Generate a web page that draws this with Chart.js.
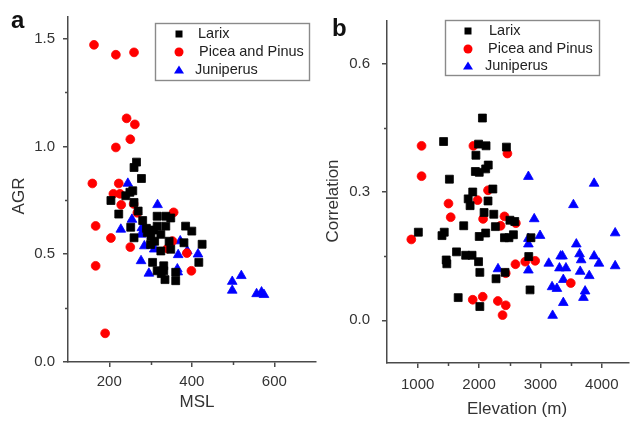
<!DOCTYPE html>
<html>
<head>
<meta charset="utf-8">
<script src="https://cdn.jsdelivr.net/npm/chart.js@4.4.1/dist/chart.umd.min.js"></script>
<style>
  html, body { margin: 0; padding: 0; background: #fff; }
  #wrap { position: relative; width: 635px; height: 421px; overflow: hidden; }
  #chartA { position: absolute; left: 0; top: 0; width: 322px; height: 421px; }
  #chartB { position: absolute; left: 322px; top: 0; width: 313px; height: 421px; }
</style>
</head>
<body>
<div id="wrap">
  <canvas id="chartA" width="322" height="421"></canvas>
  <canvas id="chartB" width="313" height="421"></canvas>
</div>
<script>
// panel a: AGR against MSL, [msl, agr]
const larixMsl = [
  [266,0.927],[260,0.902],[278,0.851],[257,0.794],[250,0.787],[240,0.771],[204,0.749],
  [223,0.686],[252,0.625],[260,0.576],[281,0.656],[270,0.700],[260,0.740],[290,0.620],
  [316,0.676],[337,0.676],[349,0.668],[316,0.630],[337,0.630],[325,0.592],[301,0.584],
  [292,0.600],[307,0.612],[385,0.630],[400,0.607],[425,0.546],[417,0.462],[381,0.553],
  [349,0.523],[325,0.515],[305,0.462],[332,0.446],[316,0.423],[332,0.423],[335,0.382],
  [361,0.377],[361,0.416],[310,0.560],[345,0.560],[326,0.410],[300,0.545]
];
const piceaMsl = [
  [163,1.471],[216,1.425],[260,1.436],[242,1.130],[262,1.102],[251,1.033],[216,0.995],
  [159,0.828],[223,0.828],[210,0.780],[226,0.780],[229,0.729],[259,0.733],[356,0.694],
  [268,0.692],[167,0.631],[204,0.575],[251,0.533],[353,0.561],[341,0.526],[388,0.505],
  [167,0.446],[399,0.423],[190,0.133]
];
const juniperusMsl = [
  [245,0.828],[317,0.729],[255,0.661],[228,0.615],[279,0.622],[277,0.592],[285,0.538],
  [303,0.549],[309,0.523],[372,0.561],[367,0.497],[389,0.515],[415,0.500],[277,0.469],
  [296,0.411],[365,0.431],[366,0.417],[498,0.373],[520,0.400],[498,0.332],[557,0.316],
  [569,0.324],[575,0.312]
];

// panel b: correlation against elevation, [elevation, r]
const larixElev = [
  [2055,0.473],[1422,0.418],[1992,0.412],[2114,0.408],[2446,0.405],[1949,0.386],[2150,0.363],
  [2108,0.354],[1940,0.348],[2003,0.346],[1517,0.330],[2225,0.307],[1897,0.300],[1823,0.284],
  [2146,0.279],[1854,0.268],[2082,0.252],[2240,0.248],[2503,0.234],[2582,0.231],[1750,0.221],
  [2266,0.219],[2108,0.204],[2003,0.196],[2414,0.193],[2487,0.193],[2560,0.200],[1011,0.206],
  [1433,0.206],[1396,0.198],[1633,0.160],[1782,0.152],[1886,0.152],[1992,0.137],[1465,0.141],
  [1475,0.132],[2013,0.112],[2277,0.097],[2424,0.112],[2846,0.193],[2810,0.149],[2831,0.071],
  [1660,0.053],[2013,0.032]
];
const piceaElev = [
  [1063,0.408],[1063,0.337],[1908,0.408],[2462,0.390],[2146,0.304],[1502,0.273],[1976,0.281],
  [1538,0.241],[2066,0.237],[2414,0.243],[2351,0.221],[2600,0.227],[896,0.189],[2593,0.131],
  [2435,0.110],[2752,0.137],[2915,0.139],[3495,0.087],[1897,0.048],[2060,0.055],[2306,0.045],
  [2435,0.035],[2383,0.012]
];
const juniperusElev = [
  [2804,0.336],[3875,0.320],[3538,0.270],[2899,0.237],[2994,0.198],[2804,0.191],[2804,0.178],
  [4218,0.204],[3585,0.178],[3330,0.150],[3360,0.150],[3638,0.155],[3664,0.141],[3875,0.150],
  [3954,0.133],[4218,0.127],[3136,0.133],[3310,0.122],[3416,0.122],[2804,0.117],[2309,0.120],
  [3648,0.114],[3796,0.104],[3373,0.095],[3190,0.078],[3269,0.074],[3728,0.068],[3701,0.053],
  [3373,0.041],[3199,0.011]
];

const seriesNames = ['Larix', 'Picea and Pinus', 'Juniperus'];

const mslTicks = [200, 400, 600];
const mslMinor = [300, 500];
const agrTicks = [0, 0.5, 1.0, 1.5];
const agrMinor = [0.25, 0.75, 1.25];
const elevTicks = [1000, 2000, 3000, 4000];
const elevMinor = [1500, 2500, 3500];
const corrTicks = [0, 0.3, 0.6];
const corrMinor = [0.15, 0.45];

const FONT = "'Liberation Sans', Arial, sans-serif";
const AXIS = '#4a4a4a';
const TEXT = '#333';
Chart.defaults.font.family = FONT;

const styles = [
  { pointStyle: 'rect', pointRadius: 5.6, backgroundColor: '#000', borderColor: '#000' },
  { pointStyle: 'circle', pointRadius: 4.4, backgroundColor: '#ff0000', borderColor: '#ff0000' },
  { pointStyle: 'triangle', pointRadius: 5.6, backgroundColor: '#0000ff', borderColor: '#0000ff' }
];

function makeSets(groups) {
  return groups.map((pts, i) => ({
    label: seriesNames[i],
    data: pts.map(p => ({ x: p[0], y: p[1] })),
    pointStyle: styles[i].pointStyle,
    pointRadius: styles[i].pointRadius,
    pointBackgroundColor: styles[i].backgroundColor,
    pointBorderColor: styles[i].borderColor,
    pointBorderWidth: 0.8,
    showLine: false
  }));
}

function fixedTicks(list) {
  return scale => { scale.ticks = list.map(v => ({ value: v })); };
}

// minor ticks, axis titles, panel letter and boxed legend
const decor = {
  id: 'decor',
  afterDraw(chart, args, o) {
    const ctx = chart.ctx;
    const xs = chart.scales.x, ys = chart.scales.y;
    const ca = chart.chartArea;
    ctx.save();
    ctx.strokeStyle = AXIS;
    ctx.lineWidth = 1.5;
    ctx.beginPath();
    o.xMinor.forEach(v => {
      const px = Math.round(xs.getPixelForValue(v)) + 0.5;
      ctx.moveTo(px, ca.bottom); ctx.lineTo(px, ca.bottom + 3);
    });
    o.yMinor.forEach(v => {
      const py = Math.round(ys.getPixelForValue(v)) + 0.5;
      ctx.moveTo(ca.left, py); ctx.lineTo(ca.left - 3, py);
    });
    ctx.stroke();

    ctx.fillStyle = TEXT;
    ctx.font = '17px ' + FONT;
    ctx.textAlign = 'center';
    ctx.textBaseline = 'middle';
    ctx.fillText(o.xTitle, o.xTitlePos[0], o.xTitlePos[1]);
    ctx.save();
    ctx.translate(o.yTitlePos[0], o.yTitlePos[1]);
    ctx.rotate(-Math.PI / 2);
    ctx.fillText(o.yTitle, 0, 0);
    ctx.restore();

    ctx.fillStyle = '#111';
    ctx.font = 'bold 24px ' + FONT;
    ctx.textAlign = 'left';
    ctx.textBaseline = 'alphabetic';
    ctx.fillText(o.letter, o.letterPos[0], o.letterPos[1]);

    // legend box
    const lg = o.legend;
    ctx.strokeStyle = '#8a8a8a';
    ctx.lineWidth = 1.4;
    ctx.strokeRect(lg.x + 0.5, lg.y + 0.5, lg.w, lg.h);
    ctx.font = '14.5px ' + FONT;
    ctx.textBaseline = 'middle';
    chart.data.datasets.forEach((ds, i) => {
      const cy = lg.rows[i];
      const cx = lg.markX;
      ctx.fillStyle = ds.pointBackgroundColor;
      ctx.beginPath();
      if (ds.pointStyle === 'rect') {
        ctx.rect(cx - 3.5, cy - 3.5, 7, 7);
      } else if (ds.pointStyle === 'circle') {
        ctx.arc(cx, cy, 4.5, 0, Math.PI * 2);
      } else {
        ctx.moveTo(cx, cy - 4.5);
        ctx.lineTo(cx + 5, cy + 3.5);
        ctx.lineTo(cx - 5, cy + 3.5);
        ctx.closePath();
      }
      ctx.fill();
      ctx.fillStyle = '#222';
      ctx.fillText(ds.label, lg.textX[i], cy);
    });
    ctx.restore();
  }
};

function axisCommon() {
  return {
    grid: { display: true, drawOnChartArea: false, drawTicks: true, tickLength: 5, color: AXIS, lineWidth: 1.5 },
    border: { display: true, color: AXIS, width: 1.5 }
  };
}

function makeChart(id, groups, cfg) {
  return new Chart(document.getElementById(id), {
    type: 'scatter',
    data: { datasets: makeSets(groups) },
    options: {
      responsive: false,
      animation: false,
      events: [],
      layout: { padding: cfg.padding },
      plugins: { legend: { display: false }, tooltip: { enabled: false }, decor: cfg.decor },
      scales: {
        x: Object.assign(axisCommon(), {
          type: 'linear', min: cfg.xRange[0], max: cfg.xRange[1],
          afterBuildTicks: fixedTicks(cfg.xTicks),
          afterFit: s => { s.height = cfg.xHeight; },
          ticks: { autoSkip: false, maxRotation: 0, padding: cfg.xPad, color: TEXT, font: { size: 15 },
                   callback: v => String(v) }
        }),
        y: Object.assign(axisCommon(), {
          type: 'linear', min: cfg.yRange[0], max: cfg.yRange[1],
          afterBuildTicks: fixedTicks(cfg.yTicks),
          afterFit: s => { s.width = cfg.yWidth; },
          ticks: { autoSkip: false, padding: cfg.yPad, color: TEXT, font: { size: 15 },
                   callback: v => Number(v).toFixed(1) }
        })
      }
    },
    plugins: [decor]
  });
}

makeChart('chartA', [larixMsl, piceaMsl, juniperusMsl], {
  padding: { top: 13, right: 2, bottom: 0, left: 0 },
  xRange: [100, 700], yRange: [0, 1.6],
  xTicks: mslTicks, yTicks: agrTicks,
  xHeight: 59, yWidth: 68, xPad: 6, yPad: 8,
  decor: {
    xMinor: mslMinor, yMinor: agrMinor,
    xTitle: 'MSL', xTitlePos: [197, 402],
    yTitle: 'AGR', yTitlePos: [19, 196],
    letter: 'a', letterPos: [11, 28],
    legend: { x: 155, y: 23, w: 154, h: 57, markX: 179, rows: [34, 52, 70], textX: [198, 199, 195] }
  }
});

makeChart('chartB', [larixElev, piceaElev, juniperusElev], {
  padding: { top: 13, right: 0, bottom: 0, left: 0 },
  xRange: [500, 4437], yRange: [-0.1, 0.7],
  xTicks: elevTicks, yTicks: corrTicks,
  xHeight: 58, yWidth: 65, xPad: 8, yPad: 12,
  decor: {
    xMinor: elevMinor, yMinor: corrMinor,
    xTitle: 'Elevation (m)', xTitlePos: [195, 409],
    yTitle: 'Correlation', yTitlePos: [11, 201],
    letter: 'b', letterPos: [10, 36],
    legend: { x: 123, y: 20, w: 154, h: 55, markX: 146, rows: [31, 49, 66], textX: [167, 166, 163] }
  }
});
</script>
</body>
</html>
